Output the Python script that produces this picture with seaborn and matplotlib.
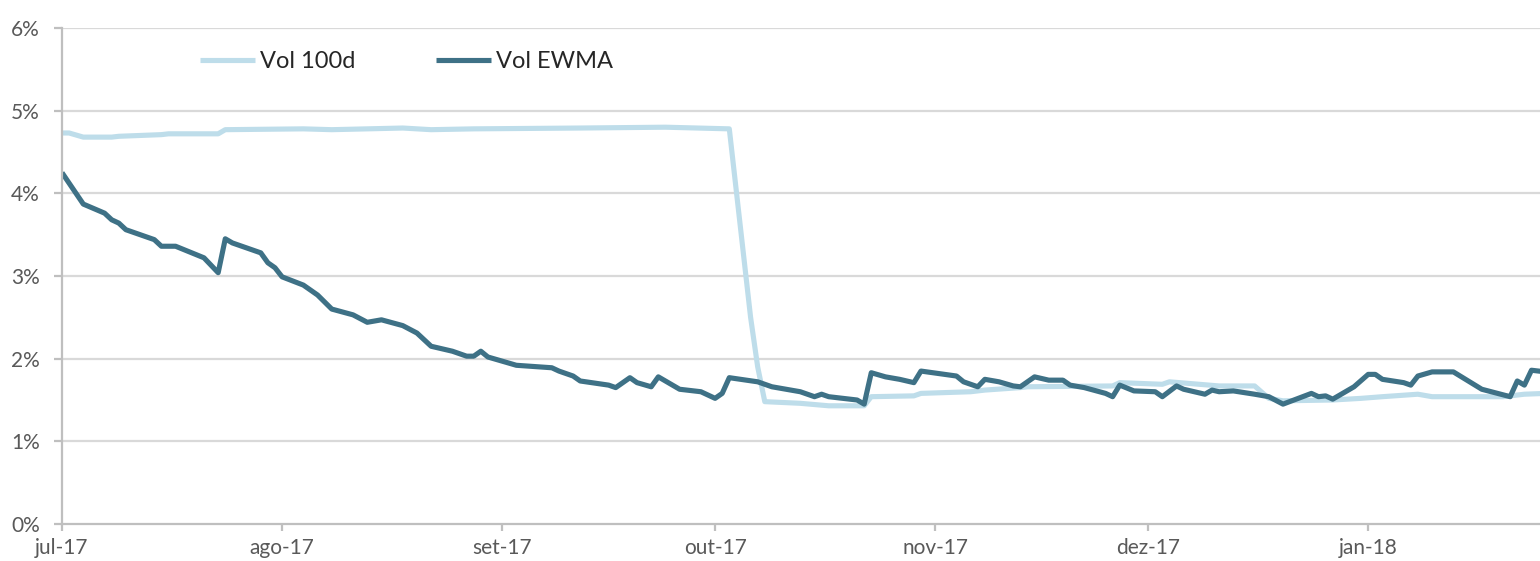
import pandas as pd
import numpy as np
import matplotlib
matplotlib.use("Agg")
import matplotlib.pyplot as plt
import seaborn as sns

# Vol 100d (light) - dates and values in %
vol100_dates = ["2017-07-01", "2017-07-02", "2017-07-04", "2017-07-08", "2017-07-09", "2017-07-15",
                "2017-07-16", "2017-07-23", "2017-07-24", "2017-08-04", "2017-08-08", "2017-08-18",
                "2017-08-22", "2017-08-28", "2017-09-12", "2017-09-24", "2017-10-03", "2017-10-06",
                "2017-10-07", "2017-10-08", "2017-10-13", "2017-10-17", "2017-10-22", "2017-10-23",
                "2017-10-29", "2017-10-30", "2017-11-06", "2017-11-08", "2017-11-13", "2017-11-14",
                "2017-11-26", "2017-11-27", "2017-12-03", "2017-12-04", "2017-12-11", "2017-12-16",
                "2017-12-18", "2017-12-20", "2017-12-27", "2017-12-31", "2018-01-03", "2018-01-08",
                "2018-01-10", "2018-01-20", "2018-01-23", "2018-01-26"]
vol100_vals = [4.73, 4.73, 4.68, 4.68, 4.69, 4.71,
               4.72, 4.72, 4.77, 4.78, 4.77, 4.79,
               4.77, 4.78, 4.79, 4.80, 4.78, 2.50,
               1.90, 1.48, 1.46, 1.43, 1.43, 1.54,
               1.55, 1.58, 1.60, 1.62, 1.65, 1.66,
               1.67, 1.71, 1.69, 1.72, 1.67, 1.67,
               1.52, 1.49, 1.50, 1.52, 1.54, 1.57,
               1.54, 1.54, 1.57, 1.58]

# Vol EWMA (dark)
ewma_dates = ["2017-07-01", "2017-07-04", "2017-07-07", "2017-07-08", "2017-07-09", "2017-07-10",
              "2017-07-11", "2017-07-14", "2017-07-15", "2017-07-17", "2017-07-21", "2017-07-23",
              "2017-07-24", "2017-07-25", "2017-07-29", "2017-07-30", "2017-07-31", "2017-08-01",
              "2017-08-04", "2017-08-06", "2017-08-08", "2017-08-11", "2017-08-13", "2017-08-15",
              "2017-08-18", "2017-08-20", "2017-08-22", "2017-08-25", "2017-08-27", "2017-08-28",
              "2017-08-29", "2017-08-30", "2017-09-03", "2017-09-08", "2017-09-09", "2017-09-11",
              "2017-09-12", "2017-09-16", "2017-09-17", "2017-09-19", "2017-09-20", "2017-09-22",
              "2017-09-23", "2017-09-26", "2017-09-29", "2017-09-30", "2017-10-01", "2017-10-02",
              "2017-10-03", "2017-10-07", "2017-10-09", "2017-10-11", "2017-10-13", "2017-10-15",
              "2017-10-16", "2017-10-17", "2017-10-20", "2017-10-21", "2017-10-22", "2017-10-23",
              "2017-10-25", "2017-10-27", "2017-10-29", "2017-10-30", "2017-11-04", "2017-11-05",
              "2017-11-07", "2017-11-08", "2017-11-10", "2017-11-12", "2017-11-13", "2017-11-15",
              "2017-11-17", "2017-11-19", "2017-11-20", "2017-11-22", "2017-11-25", "2017-11-26",
              "2017-11-27", "2017-11-29", "2017-12-02", "2017-12-03", "2017-12-05", "2017-12-06",
              "2017-12-09", "2017-12-10", "2017-12-11", "2017-12-13", "2017-12-16", "2017-12-18",
              "2017-12-20", "2017-12-24", "2017-12-25", "2017-12-26", "2017-12-27", "2017-12-30",
              "2018-01-01", "2018-01-02", "2018-01-03", "2018-01-06", "2018-01-07", "2018-01-08",
              "2018-01-10", "2018-01-13", "2018-01-17", "2018-01-21", "2018-01-22", "2018-01-23",
              "2018-01-24", "2018-01-26"]
ewma_vals = [4.25, 3.87, 3.76, 3.68, 3.64, 3.56,
             3.53, 3.44, 3.36, 3.36, 3.22, 3.04,
             3.45, 3.40, 3.28, 3.16, 3.10, 2.99,
             2.89, 2.77, 2.60, 2.53, 2.44, 2.47,
             2.40, 2.31, 2.15, 2.09, 2.03, 2.03,
             2.09, 2.02, 1.92, 1.89, 1.85, 1.79,
             1.73, 1.68, 1.65, 1.77, 1.71, 1.66,
             1.78, 1.63, 1.60, 1.56, 1.52, 1.58,
             1.77, 1.72, 1.66, 1.63, 1.60, 1.54,
             1.57, 1.54, 1.51, 1.50, 1.45, 1.83,
             1.78, 1.75, 1.71, 1.85, 1.79, 1.72,
             1.66, 1.75, 1.72, 1.67, 1.66, 1.78,
             1.74, 1.74, 1.68, 1.65, 1.58, 1.54,
             1.68, 1.61, 1.60, 1.54, 1.67, 1.63,
             1.57, 1.62, 1.60, 1.61, 1.57, 1.54,
             1.45, 1.58, 1.54, 1.55, 1.51, 1.66,
             1.81, 1.81, 1.75, 1.71, 1.68, 1.79,
             1.84, 1.84, 1.63, 1.54, 1.73, 1.68,
             1.86, 1.84]

tick_dates = ["2017-07-01", "2017-08-01", "2017-09-01", "2017-10-01", "2017-11-01", "2017-12-01", "2018-01-01"]
tick_labels = ["jul-17", "ago-17", "set-17", "out-17", "nov-17", "dez-17", "jan-18"]
y_ticks = [0, 1, 2, 3, 4, 5, 6]

df = pd.concat([
    pd.DataFrame({"date": pd.to_datetime(vol100_dates), "vol": vol100_vals, "serie": "Vol 100d"}),
    pd.DataFrame({"date": pd.to_datetime(ewma_dates), "vol": ewma_vals, "serie": "Vol EWMA"}),
])

sns.set_style("white")
plt.rcParams['font.family'] = ['Lato', 'DejaVu Sans']

fig = plt.figure(figsize=(15.4, 5.61), dpi=100)
ax = fig.add_axes([62 / 1540, 37 / 561, 1 - 62 / 1540, 496 / 561])

grid_col = "#D9D9D9"
for v in y_ticks[1:]:
    ax.axhline(v, color=grid_col, lw=1.6, zorder=0)

sns.lineplot(data=df, x="date", y="vol", hue="serie",
             palette={"Vol 100d": "#BEDDEA", "Vol EWMA": "#3E7186"},
             linewidth=3.7, legend=False, ax=ax, estimator=None, sort=False)
for ln in ax.lines[-2:]:
    ln.set_solid_joinstyle("round")
    ln.set_solid_capstyle("butt")

ax.set_xlim(pd.Timestamp("2017-07-01"), pd.Timestamp("2017-07-01") + pd.Timedelta(days=208.2))
ax.set_ylim(0, 6)
ax.set_yticks(y_ticks)
ax.set_yticklabels([f"{v}%" for v in y_ticks])
ax.set_xticks(pd.to_datetime(tick_dates))
ax.set_xticklabels(tick_labels)
ax.set_xlabel("")
ax.set_ylabel("")

for s in ["top", "right"]:
    ax.spines[s].set_visible(False)
for s in ["left", "bottom"]:
    ax.spines[s].set_color("#BFBFBF")
    ax.spines[s].set_linewidth(1.6)
ax.tick_params(axis="y", length=6, width=1.6, color="#BFBFBF", pad=10, labelsize=15, labelcolor="#595959", left=True)
ax.tick_params(axis="x", length=5, width=1.6, color="#BFBFBF", pad=5, labelsize=15, labelcolor="#595959", bottom=True)

handles = ax.lines[-2:]
leg = ax.legend(handles, ["Vol 100d", "Vol EWMA"], ncol=2, frameon=False,
                loc="center left", bbox_to_anchor=((200 - 62) / 1478, (524 - 62) / 496),
                fontsize=17, handlelength=2.35, handletextpad=0.2, columnspacing=3.4,
                borderpad=0, borderaxespad=0)

fig.savefig("out.png", dpi=100)
